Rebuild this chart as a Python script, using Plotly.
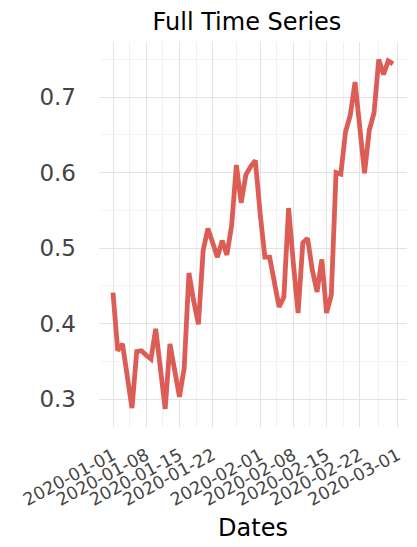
import pandas as pd
import plotly.graph_objects as go

# daily values, 2020-01-01 .. 2020-02-29
dates = pd.date_range("2020-01-01", "2020-02-29", freq="D")
values = [
    0.441, 0.364, 0.373, 0.328, 0.288, 0.363, 0.364, 0.358, 0.353, 0.393,
    0.340, 0.287, 0.373, 0.334, 0.303, 0.341, 0.467, 0.430, 0.399, 0.497,
    0.526, 0.507, 0.488, 0.510, 0.491, 0.530, 0.610, 0.560, 0.597, 0.608,
    0.616, 0.546, 0.488, 0.488, 0.458, 0.422, 0.435, 0.553, 0.480, 0.414,
    0.507, 0.513, 0.471, 0.442, 0.485, 0.414, 0.438, 0.600, 0.598, 0.654,
    0.676, 0.720, 0.660, 0.599, 0.656, 0.679, 0.750, 0.730, 0.748, 0.744,
]

x_ticks = ["2020-01-01", "2020-01-08", "2020-01-15", "2020-01-22",
           "2020-02-01", "2020-02-08", "2020-02-15", "2020-02-22", "2020-03-01"]
x_minor = ["2020-01-04 12:00", "2020-01-11 12:00", "2020-01-18 12:00", "2020-01-27",
           "2020-02-04 12:00", "2020-02-11 12:00", "2020-02-18 12:00", "2020-02-26"]
y_ticks = [0.3, 0.4, 0.5, 0.6, 0.7]
y_minor = [0.25, 0.35, 0.45, 0.55, 0.65, 0.75]

fig = go.Figure()
fig.add_trace(go.Scatter(
    x=dates, y=values, mode="lines",
    line=dict(color="#db5d55", width=4.8),
    showlegend=False,
))

# the page adds an 8px body margin, so margins are 8px smaller on left/top
fig.update_layout(
    width=417, height=547,
    template="simple_white",
    font=dict(family="DejaVu Sans", color="#444"),
    plot_bgcolor="white", paper_bgcolor="white",
    margin=dict(l=91, r=18, t=34, b=128),
    title=dict(text="Full Time Series", x=0.573, xanchor="center",
               y=0.975, yanchor="middle",
               font=dict(size=24, color="black")),
)
fig.update_xaxes(
    range=[pd.Timestamp("2020-01-01") - pd.Timedelta(days=2.95),
           pd.Timestamp("2020-02-29") + pd.Timedelta(days=2.95)],
    tickmode="array", tickvals=x_ticks, ticktext=x_ticks,
    tickangle=-28, tickfont=dict(size=17.5, color="#444"),
    ticks="", showline=False, ticklabelstandoff=14, automargin=False,
    showgrid=True, gridcolor="#e3e3e3", gridwidth=1,
    minor=dict(tickmode="array", tickvals=x_minor, showgrid=True,
               gridcolor="#f1f1f1", gridwidth=1, ticks=""),
    title=dict(text="Dates", font=dict(size=24, color="black"), standoff=10),
    zeroline=False,
)
fig.update_yaxes(
    range=[0.263, 0.773],
    tickmode="array", tickvals=y_ticks, ticktext=[str(v) for v in y_ticks],
    tickfont=dict(size=23, color="#444"),
    ticks="", showline=False, ticklabelstandoff=22, automargin=False,
    showgrid=True, gridcolor="#e3e3e3", gridwidth=1,
    minor=dict(tickmode="array", tickvals=y_minor, showgrid=True,
               gridcolor="#f4f4f4", gridwidth=1, ticks=""),
    zeroline=False,
)

fig.write_html("out.html")
